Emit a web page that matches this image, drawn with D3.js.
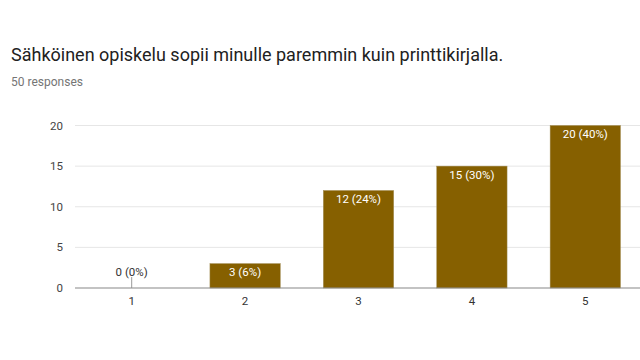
<!DOCTYPE html>
<html>
<head>
<meta charset="utf-8">
<script src="https://cdn.jsdelivr.net/npm/d3@7"></script>
<style>
  body { margin: 0; background: #fff; }
  svg { display: block; font-family: Roboto, Arial, sans-serif; }
</style>
</head>
<body>
<svg id="chart" width="640" height="360"></svg>
<script>
var title = "Sähköinen opiskelu sopii minulle paremmin kuin printtikirjalla."
var subtitle = "50 responses"
var categories = ["1", "2", "3", "4", "5"]
var counts = [0, 3, 12, 15, 20]
var percents = ["0%", "6%", "24%", "30%", "40%"]
var yTicks = [0, 5, 10, 15, 20]

var svg = d3.select("#chart")
var width = 640
var plotLeft = 75, plotRight = 642, plotTop = 125.5, plotBottom = 288

svg.append("text")
  .attr("x", 11).attr("y", 61)
  .attr("font-size", 18)
  .attr("fill", "#212121")
  .text(title)

svg.append("text")
  .attr("x", 11).attr("y", 86)
  .attr("font-size", 12)
  .attr("fill", "#757575")
  .text(subtitle)

var x = d3.scaleBand()
  .domain(categories)
  .range([plotLeft, plotRight])
  .paddingInner(0.38)
  .paddingOuter(0.19)

var y = d3.scaleLinear()
  .domain([0, 20])
  .range([plotBottom, plotTop])

//gridlines
svg.append("g")
  .selectAll("line")
  .data(yTicks.slice(1))
  .enter().append("line")
  .attr("x1", plotLeft).attr("x2", width)
  .attr("y1", function (d) { return y(d) }).attr("y2", function (d) { return y(d) })
  .attr("stroke", "#e6e6e6").attr("stroke-width", 1)

//y tick labels
svg.append("g")
  .selectAll("text")
  .data(yTicks)
  .enter().append("text")
  .attr("x", 63)
  .attr("y", function (d) { return y(d) + 4 })
  .attr("text-anchor", "end")
  .attr("font-size", 11.5)
  .attr("fill", "#444")
  .text(function (d) { return d })

var data = categories.map(function (c, i) {
  return { cat: c, count: counts[i], pct: percents[i] }
})

//bars
svg.append("g")
  .selectAll("rect")
  .data(data.filter(function (d) { return d.count > 0 }))
  .enter().append("rect")
  .attr("x", function (d) { return x(d.cat) })
  .attr("width", x.bandwidth())
  .attr("y", function (d) { return y(d.count) })
  .attr("height", function (d) { return y(0) - y(d.count) })
  .attr("fill", "#866000")
  .attr("stroke", "#a08a50").attr("stroke-width", 0.5)

//zero value marker
data.filter(function (d) { return d.count === 0 }).forEach(function (d) {
  var cx = x(d.cat) + x.bandwidth() / 2
  svg.append("line")
    .attr("x1", cx).attr("x2", cx)
    .attr("y1", y(0)).attr("y2", y(0) - 11)
    .attr("stroke", "#999").attr("stroke-width", 1)
  svg.append("text")
    .attr("x", cx).attr("y", y(0) - 12)
    .attr("text-anchor", "middle")
    .attr("font-size", 11.5)
    .attr("fill", "#333")
    .text(d.count + " (" + d.pct + ")")
})

//labels in bars
svg.append("g")
  .selectAll("text")
  .data(data.filter(function (d) { return d.count > 0 }))
  .enter().append("text")
  .attr("x", function (d) { return x(d.cat) + x.bandwidth() / 2 })
  .attr("y", function (d) { return y(d.count) + 12.5 })
  .attr("text-anchor", "middle")
  .attr("font-size", 11.5)
  .attr("fill", "#fff")
  .text(function (d) { return d.count + " (" + d.pct + ")" })

//baseline
svg.append("line")
  .attr("x1", plotLeft).attr("x2", width)
  .attr("y1", y(0)).attr("y2", y(0))
  .attr("stroke", "#888").attr("stroke-width", 1.2)

//x labels
svg.append("g")
  .selectAll("text")
  .data(categories)
  .enter().append("text")
  .attr("x", function (d) { return x(d) + x.bandwidth() / 2 })
  .attr("y", 305)
  .attr("text-anchor", "middle")
  .attr("font-size", 11.5)
  .attr("fill", "#333")
  .text(function (d) { return d })
</script>
</body>
</html>
